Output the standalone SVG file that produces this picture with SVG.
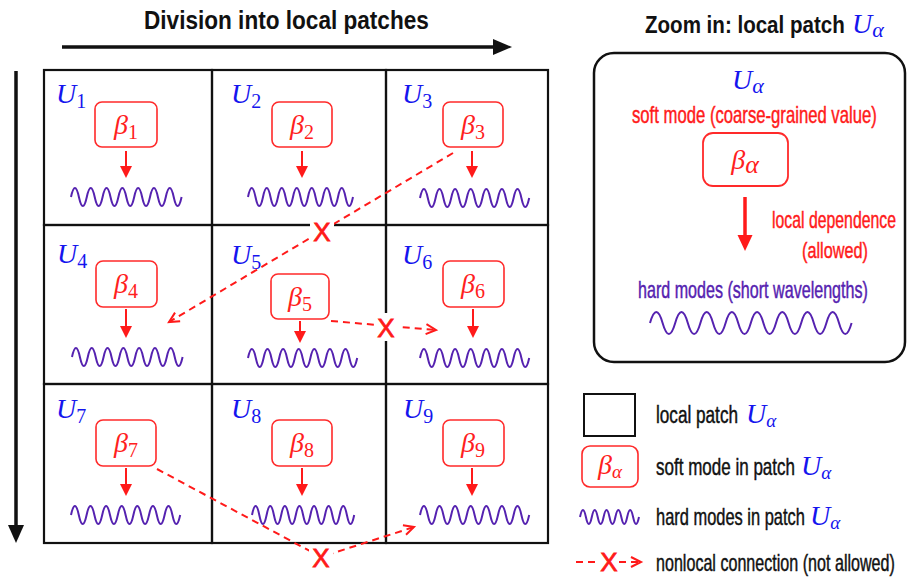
<svg xmlns="http://www.w3.org/2000/svg" width="909" height="581" viewBox="0 0 909 581">
<style>
.grid{fill:none;stroke:#111;stroke-width:2.2}
.soft{fill:#fff;stroke:#ff2a2a;stroke-width:1.6}
.wave{fill:none;stroke:#5522b0;stroke-width:2}
.ulab{font-family:"Liberation Serif","DejaVu Serif",serif;fill:#1515ee;font-size:28px}
.beta{font-family:"Liberation Serif","DejaVu Serif",serif;fill:#ff2020;font-size:28px;text-anchor:middle}
.sans{font-family:"Liberation Sans",Arial,sans-serif}
.title{font-weight:bold;fill:#111}
.red{fill:#ff1a1a;stroke:#ff1a1a;stroke-width:0.45}
.pur{fill:#5522b0;stroke:#5522b0;stroke-width:0.45}
.blk{fill:#111;stroke:#111;stroke-width:0.45}
.loc{stroke:#ff1a1a;stroke-width:2;fill:none}
.nl{stroke:#ff1a1a;stroke-width:2;stroke-dasharray:7 5;fill:none}
.xm{font-family:"Liberation Sans",Arial,sans-serif;font-size:26px;fill:#ff1a1a;text-anchor:middle;stroke:#ff1a1a;stroke-width:0.8}
</style>
<defs>
<marker id="head" viewBox="0 0 12 12" refX="6" refY="6" markerWidth="12" markerHeight="12" markerUnits="userSpaceOnUse" orient="auto">
<path d="M0,0 L12,6 L0,12 z" fill="#ff1a1a"/>
</marker>
<marker id="open" viewBox="0 0 12 12" refX="11" refY="6" markerWidth="12" markerHeight="12" markerUnits="userSpaceOnUse" orient="auto" overflow="visible">
<path d="M1,1 L11,6 L1,11" fill="none" stroke="#ff1a1a" stroke-width="2"/>
</marker>
</defs>
<rect width="909" height="581" fill="#fff"/>

<g id="titles">
<text class="sans title" transform="translate(144,29) scale(0.869,1)" font-size="26">Division into local patches</text>
<text class="sans title" transform="translate(645,33) scale(0.894,1)" font-size="23">Zoom in: local patch</text>
<text class="ulab" x="852" y="33" font-size="29"><tspan font-style="italic">U</tspan><tspan font-style="italic" font-size="22" dy="4">α</tspan></text>
</g>

<g id="axes">
<line x1="62" y1="47" x2="495" y2="47" stroke="#111" stroke-width="3.5"/>
<polygon points="493,39 512,47 493,55" fill="#111"/>
<line x1="16" y1="71" x2="16" y2="527" stroke="#111" stroke-width="3.5"/>
<polygon points="8,525 24,525 16,543" fill="#111"/>
</g>

<g id="cell-1">
<rect class="grid" x="44" y="70" width="168" height="155"/>
<text class="ulab" x="56" y="103"><tspan font-style="italic">U</tspan><tspan font-size="20" dy="5">1</tspan></text>
<rect class="soft" x="95" y="102" width="62" height="45" rx="7"/>
<text class="beta" x="126" y="134"><tspan font-style="italic">β</tspan><tspan font-size="20" dy="5">1</tspan></text>
<path class="wave" d="M71,197 q3.95,-18 7.9,0 t7.9,0 t7.9,0 t7.9,0 t7.9,0 t7.9,0 t7.9,0 t7.9,0 t7.9,0 t7.9,0 t7.9,0 t7.9,0 t7.9,0 t7.9,0"/>
</g>
<g id="cell-2">
<rect class="grid" x="212" y="70" width="174" height="155"/>
<text class="ulab" x="231" y="103"><tspan font-style="italic">U</tspan><tspan font-size="20" dy="5">2</tspan></text>
<rect class="soft" x="272" y="102" width="60" height="45" rx="7"/>
<text class="beta" x="302" y="134"><tspan font-style="italic">β</tspan><tspan font-size="20" dy="5">2</tspan></text>
<path class="wave" d="M248,197 q3.75,-18 7.5,0 t7.5,0 t7.5,0 t7.5,0 t7.5,0 t7.5,0 t7.5,0 t7.5,0 t7.5,0 t7.5,0 t7.5,0 t7.5,0 t7.5,0 t7.5,0"/>
</g>
<g id="cell-3">
<rect class="grid" x="386" y="70" width="162" height="155"/>
<text class="ulab" x="402" y="103"><tspan font-style="italic">U</tspan><tspan font-size="20" dy="5">3</tspan></text>
<rect class="soft" x="443" y="102" width="60" height="45" rx="7"/>
<text class="beta" x="473" y="134"><tspan font-style="italic">β</tspan><tspan font-size="20" dy="5">3</tspan></text>
<path class="wave" d="M420,198 q3.9,-18 7.8,0 t7.8,0 t7.8,0 t7.8,0 t7.8,0 t7.8,0 t7.8,0 t7.8,0 t7.8,0 t7.8,0 t7.8,0 t7.8,0 t7.8,0 t7.8,0"/>
</g>
<g id="cell-4">
<rect class="grid" x="44" y="225" width="168" height="159"/>
<text class="ulab" x="57" y="263"><tspan font-style="italic">U</tspan><tspan font-size="20" dy="5">4</tspan></text>
<rect class="soft" x="96" y="261" width="61" height="46" rx="7"/>
<text class="beta" x="126" y="293"><tspan font-style="italic">β</tspan><tspan font-size="20" dy="5">4</tspan></text>
<path class="wave" d="M72,357 q3.95,-18 7.9,0 t7.9,0 t7.9,0 t7.9,0 t7.9,0 t7.9,0 t7.9,0 t7.9,0 t7.9,0 t7.9,0 t7.9,0 t7.9,0 t7.9,0 t7.9,0"/>
</g>
<g id="cell-5">
<rect class="grid" x="212" y="225" width="174" height="159"/>
<text class="ulab" x="231" y="264"><tspan font-style="italic">U</tspan><tspan font-size="20" dy="5">5</tspan></text>
<rect class="soft" x="271" y="274" width="58" height="45" rx="7"/>
<text class="beta" x="300" y="306"><tspan font-style="italic">β</tspan><tspan font-size="20" dy="5">5</tspan></text>
<path class="wave" d="M248,358 q3.9,-18 7.8,0 t7.8,0 t7.8,0 t7.8,0 t7.8,0 t7.8,0 t7.8,0 t7.8,0 t7.8,0 t7.8,0 t7.8,0 t7.8,0 t7.8,0 t7.8,0"/>
</g>
<g id="cell-6">
<rect class="grid" x="386" y="225" width="162" height="159"/>
<text class="ulab" x="402" y="264"><tspan font-style="italic">U</tspan><tspan font-size="20" dy="5">6</tspan></text>
<rect class="soft" x="443" y="261" width="61" height="46" rx="7"/>
<text class="beta" x="473" y="293"><tspan font-style="italic">β</tspan><tspan font-size="20" dy="5">6</tspan></text>
<path class="wave" d="M420,358 q3.9,-18 7.8,0 t7.8,0 t7.8,0 t7.8,0 t7.8,0 t7.8,0 t7.8,0 t7.8,0 t7.8,0 t7.8,0 t7.8,0 t7.8,0 t7.8,0 t7.8,0"/>
</g>
<g id="cell-7">
<rect class="grid" x="44" y="384" width="168" height="159"/>
<text class="ulab" x="56" y="418"><tspan font-style="italic">U</tspan><tspan font-size="20" dy="5">7</tspan></text>
<rect class="soft" x="96" y="420" width="60" height="46" rx="7"/>
<text class="beta" x="126" y="452"><tspan font-style="italic">β</tspan><tspan font-size="20" dy="5">7</tspan></text>
<path class="wave" d="M71,515 q3.9,-18 7.8,0 t7.8,0 t7.8,0 t7.8,0 t7.8,0 t7.8,0 t7.8,0 t7.8,0 t7.8,0 t7.8,0 t7.8,0 t7.8,0 t7.8,0 t7.8,0"/>
</g>
<g id="cell-8">
<rect class="grid" x="212" y="384" width="174" height="159"/>
<text class="ulab" x="231" y="418"><tspan font-style="italic">U</tspan><tspan font-size="20" dy="5">8</tspan></text>
<rect class="soft" x="272" y="420" width="60" height="46" rx="7"/>
<text class="beta" x="302" y="452"><tspan font-style="italic">β</tspan><tspan font-size="20" dy="5">8</tspan></text>
<path class="wave" d="M252,515 q3.65,-18 7.3,0 t7.3,0 t7.3,0 t7.3,0 t7.3,0 t7.3,0 t7.3,0 t7.3,0 t7.3,0 t7.3,0 t7.3,0 t7.3,0 t7.3,0 t7.3,0"/>
</g>
<g id="cell-9">
<rect class="grid" x="386" y="384" width="162" height="159"/>
<text class="ulab" x="403" y="418"><tspan font-style="italic">U</tspan><tspan font-size="20" dy="5">9</tspan></text>
<rect class="soft" x="443" y="420" width="61" height="46" rx="7"/>
<text class="beta" x="473" y="452"><tspan font-style="italic">β</tspan><tspan font-size="20" dy="5">9</tspan></text>
<path class="wave" d="M420,515 q3.9,-18 7.8,0 t7.8,0 t7.8,0 t7.8,0 t7.8,0 t7.8,0 t7.8,0 t7.8,0 t7.8,0 t7.8,0 t7.8,0 t7.8,0 t7.8,0 t7.8,0"/>
</g>

<g id="zoom-panel">
<rect x="594" y="53" width="311" height="309" rx="20" fill="none" stroke="#111" stroke-width="2.5"/>
<text class="ulab" x="732" y="89" font-size="30"><tspan font-style="italic">U</tspan><tspan font-style="italic" font-size="22" dy="4">α</tspan></text>
<text class="sans red" transform="translate(632,123) scale(0.726,1)" font-size="23">soft mode (coarse-grained value)</text>
<rect x="703" y="133" width="85" height="53" rx="10" fill="#fff" stroke="#ff2a2a" stroke-width="1.8"/>
<text class="beta" x="745" y="169" font-size="34"><tspan font-style="italic">β</tspan><tspan font-style="italic" font-size="26" dy="4">α</tspan></text>
<text class="sans red" transform="translate(772,228) scale(0.688,1)" font-size="23">local dependence</text>
<text class="sans red" transform="translate(802,258) scale(0.707,1)" font-size="23">(allowed)</text>
<text class="sans pur" transform="translate(638,298) scale(0.700,1)" font-size="23">hard modes (short wavelengths)</text>
<path class="wave" d="M650,323 q6.3,-22 12.6,0 t12.6,0 t12.6,0 t12.6,0 t12.6,0 t12.6,0 t12.6,0 t12.6,0 t12.6,0 t12.6,0 t12.6,0 t12.6,0 t12.6,0 t12.6,0 t12.6,0 t12.6,0" stroke-width="2.2"/>
</g>

<g id="legend">
<rect x="584" y="394" width="51" height="42" fill="none" stroke="#111" stroke-width="2"/>
<text class="sans blk" transform="translate(656,423) scale(0.746,1)" font-size="23">local patch</text>
<text class="ulab" x="746" y="423" font-size="25"><tspan font-style="italic">U</tspan><tspan font-style="italic" font-size="19" dy="4">α</tspan></text>
<rect x="582" y="446" width="56" height="41" rx="8" fill="#fff" stroke="#ff2a2a" stroke-width="1.6"/>
<text class="beta" x="610" y="474" font-size="26"><tspan font-style="italic">β</tspan><tspan font-style="italic" font-size="19" dy="4">α</tspan></text>
<text class="sans blk" transform="translate(656,475) scale(0.740,1)" font-size="23">soft mode in patch</text>
<text class="ulab" x="801" y="475" font-size="25"><tspan font-style="italic">U</tspan><tspan font-style="italic" font-size="19" dy="4">α</tspan></text>
<path class="wave" d="M580,517 q2.95,-14 5.9,0 t5.9,0 t5.9,0 t5.9,0 t5.9,0 t5.9,0 t5.9,0 t5.9,0 t5.9,0 t5.9,0"/>
<text class="sans blk" transform="translate(656,525) scale(0.715,1)" font-size="23">hard modes in patch</text>
<text class="ulab" x="810" y="525" font-size="25"><tspan font-style="italic">U</tspan><tspan font-style="italic" font-size="19" dy="4">α</tspan></text>
<path class="nl" d="M576,562 H600" stroke-dasharray="7 4"/>
<text class="xm" x="609" y="571">X</text>
<path class="nl" d="M619,562 H641" stroke-dasharray="7 4" marker-end="url(#open)"/>
<text class="sans blk" transform="translate(656,571) scale(0.700,1)" font-size="23">nonlocal connection (not allowed)</text>
</g>

<g id="connectors">
<path class="loc" d="M126,151 V172" marker-end="url(#head)"/>
<path class="loc" d="M302,151 V172" marker-end="url(#head)"/>
<path class="loc" d="M472,151 V172" marker-end="url(#head)"/>
<path class="loc" d="M126,309 V332" marker-end="url(#head)"/>
<path class="loc" d="M300,321 V337" marker-end="url(#head)"/>
<path class="loc" d="M473,309 V332" marker-end="url(#head)"/>
<path class="loc" d="M126,468 V490" marker-end="url(#head)"/>
<path class="loc" d="M302,468 V490" marker-end="url(#head)"/>
<path class="loc" d="M472,468 V490" marker-end="url(#head)"/>
<line x1="745" y1="197" x2="745" y2="237" stroke="#ff1a1a" stroke-width="3.5"/>
<polygon points="737.5,235 752.5,235 745,251" fill="#ff1a1a"/>
<path class="nl" d="M453,153 L169,322" marker-end="url(#open)"/>
<path class="nl" d="M331,321 L436,330" marker-end="url(#open)"/>
<path class="nl" d="M157,469 L321,557 L414,527" marker-end="url(#open)"/>
<rect x="310" y="218" width="24" height="27" fill="#fff"/>
<text class="xm" x="322" y="241">X</text>
<rect x="374" y="313" width="24" height="28" fill="#fff"/>
<text class="xm" x="386" y="337">X</text>
<rect x="309" y="546" width="24" height="25" fill="#fff"/>
<text class="xm" x="321" y="567">X</text>
</g>
</svg>
